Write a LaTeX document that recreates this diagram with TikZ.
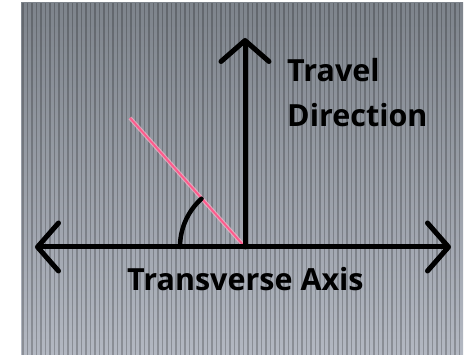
\documentclass[tikz,border=0pt]{standalone}
\usepackage{fontspec}
\setsansfont{Open Sans}
\usepackage{tikz}
\usetikzlibrary{arrows.meta,positioning}
\usepackage{xcolor}
\definecolor{panel top}{HTML}{7E848C}
\definecolor{panel bottom}{HTML}{B3B8C2}
\definecolor{laser}{HTML}{FF5A8C}

\begin{document}
\begin{tikzpicture}[x=1pt, y=1pt,
  axis/.style={line width=5pt, line cap=round, {Straight Barb[length=21pt,width=48pt,round]}-{Straight Barb[length=21pt,width=48pt,round]}},
  single/.style={line width=5pt, line cap=round, -{Straight Barb[length=21pt,width=48pt,round]}},
  label/.style={font=\sffamily\bfseries\fontsize{30.5}{45}\selectfont, inner sep=0pt, align=left}
]
  \useasboundingbox (0,0) rectangle (469,358);
  % striped screen
  \shade[top color=panel top, bottom color=panel bottom] (21,3) rectangle (463,355);
  \foreach \x in {23,27.5,...,462}
    \draw[black, opacity=.22, line width=1.8pt] (\x,3) -- (\x,355);

  \coordinate (o) at (245,111);
  \coordinate (lft) at (35,111);
  \coordinate (rgt) at (451,111);
  \coordinate (top) at (245,320);
  \coordinate (beam) at (130,240);

  \draw[laser!45, line width=4pt, opacity=.7] (beam) -- (o);
  \draw[laser, line width=1.8pt] (beam) -- (o);

  \draw[axis] (lft) -- (rgt);
  \draw[single] (o) -- (top);
  \draw[line width=4.5pt, line cap=round] ([shift={(180:65pt)}]o) arc (180:132:65pt);

  \node[label, anchor=base west] (travel) at (287,231) {Travel\\Direction};
  \node[label, anchor=base west] (transverse) at (127,67) {Transverse Axis};
\end{tikzpicture}
\end{document}
